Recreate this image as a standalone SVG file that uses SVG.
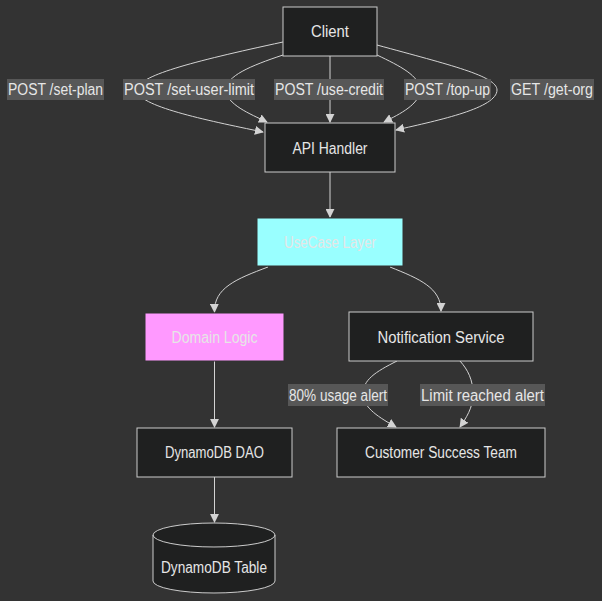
<svg xmlns="http://www.w3.org/2000/svg" width="602" height="601" viewBox="0 0 602 601">
<defs>
<marker id="arr" viewBox="0 0 10 10" refX="9" refY="5" markerWidth="9" markerHeight="9" markerUnits="userSpaceOnUse" orient="auto">
<path d="M0,0 L10,5 L0,10 z" fill="#d3d3d3"/>
</marker>
<style>
.node rect,.node path{fill:#1f2020;stroke:#cccccc;stroke-width:1}
.nt{font-family:"Liberation Sans",Arial,sans-serif;font-size:16px;fill:#e6e6e6;text-anchor:middle}
.edge{fill:none;stroke:#d3d3d3;stroke-width:1;marker-end:url(#arr)}
.lbl rect{fill:#575757;stroke:none}
.lt{font-family:"Liberation Sans",Arial,sans-serif;font-size:16px;fill:#e6e6e6;text-anchor:middle}
</style>
</defs>
<rect x="0" y="0" width="602" height="601" fill="#333333"/>
<g id="connectors">
<path class="edge" d="M283,42 C190,62 137,76 137,90 C137,106 205,120 263,132"/>
<path class="edge" d="M283,55 C250,66 226,76 226,90 C226,104 250,114 267,122"/>
<path class="edge" d="M330,56 L330,122"/>
<path class="edge" d="M377,55 C400,66 420,76 420,90 C420,104 400,114 384,122"/>
<path class="edge" d="M377,45 C450,65 497,76 497,90 C497,108 440,120 396,130"/>
<path class="edge" d="M330,172 L330,217"/>
<path class="edge" d="M268,267 C236,279 214,288 214.5,312"/>
<path class="edge" d="M390,267 C420,279 441,288 441,311"/>
<path class="edge" d="M214.5,361 L214.5,427"/>
<path class="edge" d="M214.5,477 L214.5,522"/>
<path class="edge" d="M397,361 C375,372 363,380 363,394 C363,408 380,418 396,427"/>
<path class="edge" d="M460,361 C468,370 473,380 473,394 C473,408 466,418 460,427"/>
</g>
<g id="edge-labels">
<g class="lbl"><rect x="7" y="79" width="97" height="21"/><text class="lt" x="55.5" y="95" textLength="95" lengthAdjust="spacingAndGlyphs">POST /set-plan</text></g>
<g class="lbl"><rect x="123" y="79" width="132" height="21"/><text class="lt" x="189" y="95" textLength="130" lengthAdjust="spacingAndGlyphs">POST /set-user-limit</text></g>
<g class="lbl"><rect x="274" y="79" width="110" height="21"/><text class="lt" x="329" y="95" textLength="108" lengthAdjust="spacingAndGlyphs">POST /use-credit</text></g>
<g class="lbl"><rect x="404" y="79" width="87" height="21"/><text class="lt" x="447.5" y="95" textLength="85" lengthAdjust="spacingAndGlyphs">POST /top-up</text></g>
<g class="lbl"><rect x="510" y="79" width="84" height="21"/><text class="lt" x="552" y="95" textLength="82" lengthAdjust="spacingAndGlyphs">GET /get-org</text></g>
<g class="lbl"><rect x="288" y="384" width="100" height="22"/><text class="lt" x="338" y="400.5" textLength="98" lengthAdjust="spacingAndGlyphs">80% usage alert</text></g>
<g class="lbl"><rect x="420" y="384" width="125" height="22"/><text class="lt" x="482.5" y="400.5" textLength="123" lengthAdjust="spacingAndGlyphs">Limit reached alert</text></g>
</g>
<g id="client" class="node"><rect x="283" y="7" width="94" height="49"/><text class="nt" x="330" y="37" textLength="38" lengthAdjust="spacingAndGlyphs">Client</text></g>
<g id="api-handler" class="node"><rect x="265" y="123" width="130" height="49"/><text class="nt" x="330" y="153.5" textLength="75" lengthAdjust="spacingAndGlyphs">API Handler</text></g>
<g id="usecase-layer" class="node"><rect x="257" y="218" width="146" height="48" style="fill:#99ffff;stroke:#333333"/><text class="nt" x="330" y="247.5" textLength="92" lengthAdjust="spacingAndGlyphs">UseCase Layer</text></g>
<g id="domain-logic" class="node"><rect x="145" y="313" width="139" height="48" style="fill:#ff99ff;stroke:#333333"/><text class="nt" x="214.5" y="342.5" textLength="86" lengthAdjust="spacingAndGlyphs">Domain Logic</text></g>
<g id="notification-service" class="node"><rect x="349" y="312" width="184" height="49"/><text class="nt" x="441" y="342.5" textLength="127" lengthAdjust="spacingAndGlyphs">Notification Service</text></g>
<g id="dynamodb-dao" class="node"><rect x="137" y="428" width="155" height="49"/><text class="nt" x="214.5" y="458" textLength="99" lengthAdjust="spacingAndGlyphs">DynamoDB DAO</text></g>
<g id="customer-success-team" class="node"><rect x="337" y="428" width="208" height="49"/><text class="nt" x="441" y="458" textLength="152" lengthAdjust="spacingAndGlyphs">Customer Success Team</text></g>
<g id="dynamodb-table" class="node"><path d="M153,535 a61,12 0 0,0 122,0 a61,12 0 0,0 -122,0 l0,46 a61,12 0 0,0 122,0 l0,-46"/><text class="nt" x="214" y="572.5" textLength="106" lengthAdjust="spacingAndGlyphs">DynamoDB Table</text></g>
</svg>
